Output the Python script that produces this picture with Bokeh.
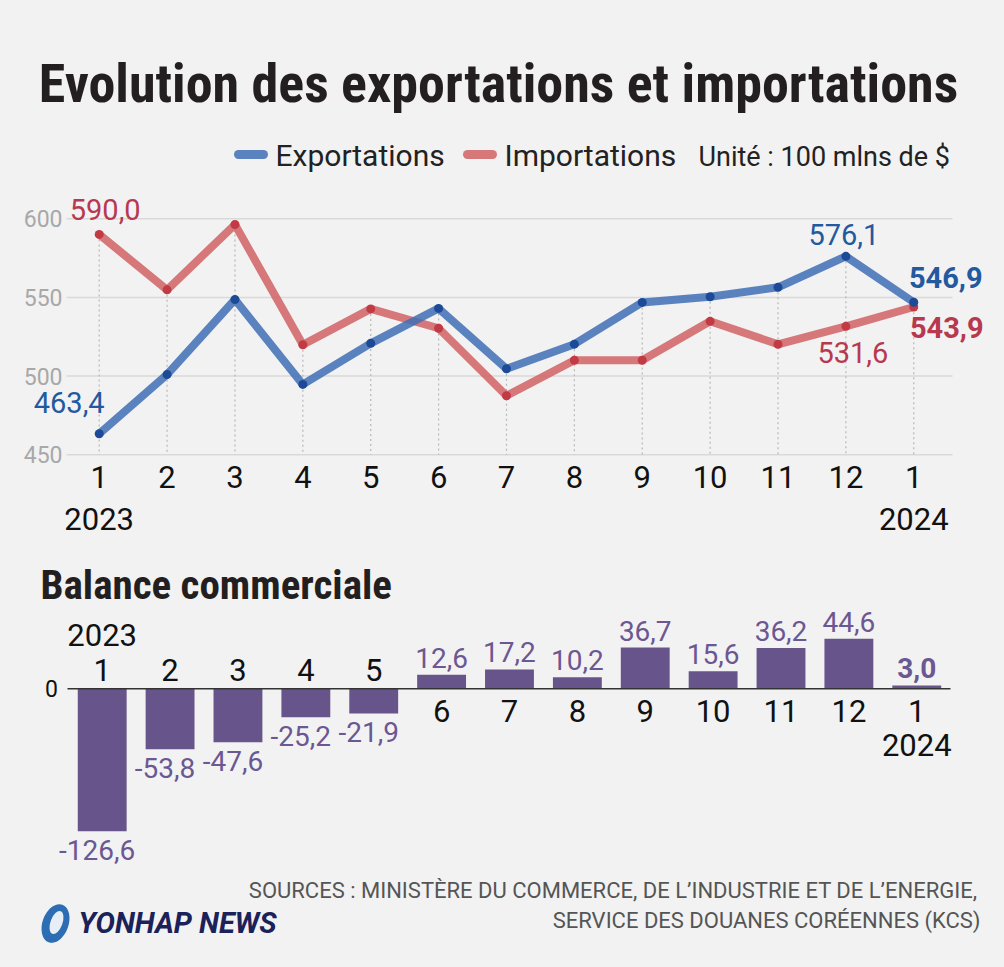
from bokeh.plotting import figure
from bokeh.layouts import column
from bokeh.models import (Range1d, LabelSet, ColumnDataSource)
from bokeh.core.properties import value
from bokeh.embed import file_html
from bokeh.resources import INLINE

# ---------------- data ----------------
month_labels = ["1", "2", "3", "4", "5", "6", "7", "8", "9", "10", "11", "12", "1"]
year_labels = ["2023", "2024"]
year_positions = [1, 13]
exports = [463.4, 501.0, 548.7, 494.7, 520.8, 543.0, 504.7, 520.3, 546.8, 550.4, 556.4, 576.1, 546.9]
imports = [590.0, 554.8, 596.3, 519.9, 542.7, 530.4, 487.5, 510.1, 510.1, 534.8, 520.2, 531.6, 543.9]
balance = [-126.6, -53.8, -47.6, -25.2, -21.9, 12.6, 17.2, 10.2, 36.7, 15.6, 36.2, 44.6, 3.0]
y_ticks = [450, 500, 550, 600]
bar_ticks = [0]
series_names = ["Exportations", "Importations"]
unit_text = "Unité : 100 mlns de $"
title_text = "Evolution des exportations et importations"
subtitle_text = "Balance commerciale"
source_lines = ["SOURCES : MINISTÈRE DU COMMERCE, DE L’INDUSTRIE ET DE L’ENERGIE,",
                "SERVICE DES DOUANES CORÉENNES (KCS)"]
brand_text = "YONHAP NEWS"

# ---------------- style ----------------
W = 1004
BG = "#f2f2f2"
FONT = "Roboto"
COND = "Roboto Condensed"
BLUE_LINE = "#3f6fb5"
RED_LINE = "#d16165"
BLUE_DOT = "#1d4a96"
RED_DOT = "#c23a44"
BLUE_TXT = "#22599f"
RED_TXT = "#b8384f"
PURPLE = "#67548a"
PURPLE_TXT = "#6b5792"
DARK = "#231f20"


def fmt(v):
    return f"{v:.1f}".replace(".", ",")


def base_fig(h, xr, yr):
    p = figure(width=W, height=h, x_range=xr, y_range=yr,
               x_axis_type=None, y_axis_type=None, output_backend="svg",
               toolbar_location=None, min_border=0,
               background_fill_color=BG, border_fill_color=BG, outline_line_color=None)
    p.grid.visible = False
    return p


def blank(h):
    # data units = pixels, y measured upward from the bottom of the strip
    return base_fig(h, Range1d(0, W), Range1d(0, h))


def put_text(p, xs, ys, texts, size, color=DARK, style="normal", align="left",
             baseline="alphabetic", font=FONT, xo=0, yo=0):
    src = ColumnDataSource(dict(x=list(xs), y=list(ys), t=list(texts)))
    p.add_layout(LabelSet(x="x", y="y", text="t", source=src, x_offset=xo, y_offset=yo,
                          text_align=align, text_baseline=baseline,
                          text_font=value(font), text_font_size=value(size),
                          text_font_style=value(style), text_color=color))


# ---------------- header (page y 0..190) ----------------
HH = 190
hp = blank(HH)
put_text(hp, [498], [HH - 101], [title_text], "54px", style="bold", align="center", font=COND)
hp.segment(x0=[238, 467], y0=[HH - 154] * 2, x1=[263, 492], y1=[HH - 154] * 2,
           line_color=[BLUE_LINE, RED_LINE], line_alpha=0.85, line_width=9, line_cap="round")
put_text(hp, [275, 504], [HH - 165] * 2, series_names, "30px", color="#222222")
put_text(hp, [698], [HH - 165], [unit_text], "27px", color="#222222")

# ---------------- line chart (page y 190..540) ----------------
x = list(range(1, len(exports) + 1))
STEP = 67.88               # px between months
X1 = 98.7                  # px of first month
PX = 1.574                 # px per unit
ABS_450 = 454.3            # page y of the 450 grid line
LINE_TOP = HH
LH = 350


def xu(px, first=X1):
    return 1 + (px - first) / STEP


ystart = 450 - (LINE_TOP + LH - ABS_450) / PX
yend = 450 + (ABS_450 - LINE_TOP) / PX
lp = base_fig(LH, Range1d(xu(0), xu(W)), Range1d(ystart, yend))

# horizontal grid + y tick labels
gx0, gx1 = xu(66), xu(952)
lp.segment(x0=[gx0] * len(y_ticks), y0=y_ticks, x1=[gx1] * len(y_ticks), y1=y_ticks,
           line_color="#d9d9d9", line_width=1.5)
put_text(lp, [xu(62)] * len(y_ticks), y_ticks, [str(t) for t in y_ticks], "23px",
         color="#a8a8a8", align="right", baseline="middle")

tops = [max(a, b) for a, b in zip(exports, imports)]
lp.segment(x0=x, y0=tops, x1=x, y1=[y_ticks[0]] * len(x), line_color="#b8b8b8",
           line_width=1.2, line_dash="2 3")
lp.line(x, imports, line_color=RED_LINE, line_alpha=0.85, line_width=8)
lp.line(x, exports, line_color=BLUE_LINE, line_alpha=0.85, line_width=8)
lp.scatter(x, imports, size=9, fill_color=RED_DOT, line_color=None)
lp.scatter(x, exports, size=9, fill_color=BLUE_DOT, line_color=None)

# month / year labels under the chart
put_text(lp, x, [y_ticks[0]] * len(x), month_labels, "31px", color="#111111",
         align="center", yo=-33)
put_text(lp, year_positions, [y_ticks[0]] * len(year_positions), year_labels, "31px",
         color="#111111", align="center", yo=-75)


def add_line_labels(series, specs, color):
    # specs: (index, x offset px, y offset px (up +), bold)
    src = ColumnDataSource(dict(
        x=[x[s[0]] for s in specs],
        y=[series[s[0]] for s in specs],
        t=[fmt(series[s[0]]) for s in specs],
        xo=[s[1] for s in specs], yo=[s[2] for s in specs],
        st=["bold" if s[3] else "normal" for s in specs]))
    lp.add_layout(LabelSet(x="x", y="y", text="t", source=src, x_offset="xo", y_offset="yo",
                           text_align="center", text_baseline="alphabetic",
                           text_font=value(FONT), text_font_size=value("29px"),
                           text_font_style="st", text_color=color))


add_line_labels(exports, [(0, -30, 21, False), (11, -2, 11, False), (12, 32, 14, True)], BLUE_TXT)
add_line_labels(imports, [(0, 6, 14, False), (11, 7, -37, False), (12, 33, -31, True)], RED_TXT)

# ---------------- bar chart with its heading (page y 540..870) ----------------
BAR_TOP = HH + LH
BH = 330
ZERO_PAGE_Y = 688.3
ZERO_FROM_TOP = ZERO_PAGE_Y - BAR_TOP
BPX = 1.125
XB1 = 101.7
bp = base_fig(BH, Range1d(xu(0, XB1), xu(W, XB1)),
              Range1d(-(BH - ZERO_FROM_TOP) / BPX, ZERO_FROM_TOP / BPX))

# heading "Balance commerciale" (baseline at page y 598)
put_text(bp, [xu(40, XB1)], bar_ticks, [subtitle_text], "41px", style="bold", font=COND,
         yo=ZERO_PAGE_Y - 598)

bp.vbar(x=x, top=balance, bottom=0, width=0.72, fill_color=PURPLE, line_color=None)
bp.segment(x0=[xu(67, XB1)], y0=bar_ticks, x1=[xu(950, XB1)], y1=bar_ticks,
           line_color="#333333", line_width=1.5)
put_text(bp, [xu(57.5, XB1)], bar_ticks, [str(t) for t in bar_ticks], "23px",
         color="#111111", align="right", baseline="middle")

msrc = ColumnDataSource(dict(x=x, y=[0] * len(x), t=month_labels,
                             yo=[8 if b < 0 else -33 for b in balance]))
bp.add_layout(LabelSet(x="x", y="y", text="t", source=msrc, y_offset="yo",
                       text_align="center", text_baseline="alphabetic",
                       text_font=value(FONT), text_font_size=value("31px"),
                       text_color="#111111"))
ysrc = ColumnDataSource(dict(x=year_positions, y=[0] * len(year_positions), t=year_labels,
                             yo=[43 if balance[p - 1] < 0 else -67 for p in year_positions]))
bp.add_layout(LabelSet(x="x", y="y", text="t", source=ysrc, y_offset="yo",
                       text_align="center", text_baseline="alphabetic",
                       text_font=value(FONT), text_font_size=value("31px"),
                       text_color="#111111"))
vsrc = ColumnDataSource(dict(x=x, y=balance, t=[fmt(b) for b in balance],
                             xo=[-5 if b < 0 else 0 for b in balance],
                             yo=[-29 if b < 0 else 7 for b in balance],
                             st=["normal"] * (len(x) - 1) + ["bold"]))
bp.add_layout(LabelSet(x="x", y="y", text="t", source=vsrc, x_offset="xo", y_offset="yo",
                       text_align="center", text_baseline="alphabetic",
                       text_font=value(FONT), text_font_size=value("28px"),
                       text_font_style="st", text_color=PURPLE_TXT))

# ---------------- footer (page y 870..967) ----------------
FH = 967 - HH - LH - BH
fp = blank(FH)
put_text(fp, [977, 980], [FH - 27, FH - 57], source_lines, "22px", color="#555555",
         align="right")
fp.ellipse(x=[55], y=[FH - 53], width=[26], height=[40], angle=[-0.35],
           fill_color="#2c6db4", line_color=None)
fp.ellipse(x=[56], y=[FH - 52], width=[12], height=[24], angle=[-0.35],
           fill_color="#e8eef6", line_color=None)
put_text(fp, [78], [FH - 62], [brand_text], "29px", color="#1b2159", style="bold italic")

layout = column(hp, lp, bp, fp, spacing=0, styles={"background-color": BG})
open("out.html", "w").write(file_html(layout, INLINE))
